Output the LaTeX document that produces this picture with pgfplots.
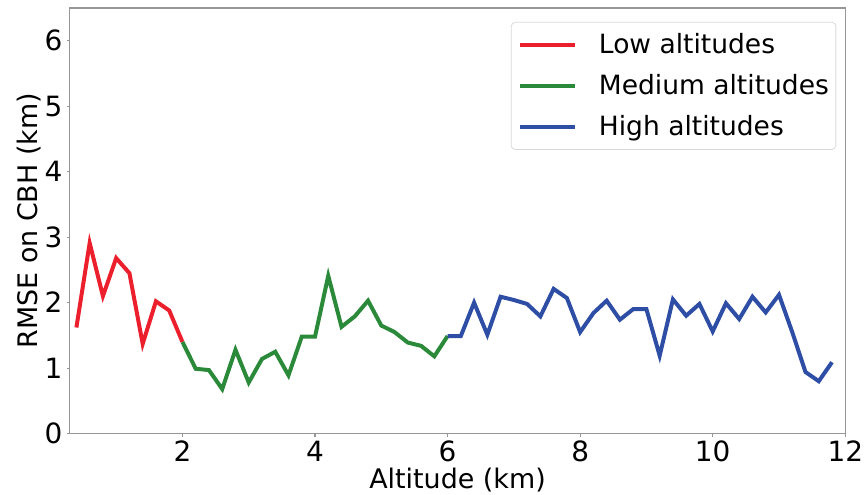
\documentclass[border=0pt]{standalone}
\usepackage{fontspec}
\setmainfont{DejaVu Sans}
\usepackage{pgfplots}
\pgfplotsset{compat=1.18}

\definecolor{lowred}{RGB}{236,32,44}
\definecolor{midgreen}{RGB}{42,138,58}
\definecolor{highblue}{RGB}{46,78,166}
\definecolor{spine}{RGB}{150,150,150}

\begin{document}
\begin{tikzpicture}
\begin{axis}[
    scale only axis,
    width=389pt,
    height=213.5pt,
    xmin=0.3, xmax=12,
    ymin=0, ymax=6.5,
    xtick={2,4,6,8,10,12},
    ytick={0,1,2,3,4,5,6},
    tick align=outside,
    tick pos=left,
    major tick length=1.5pt,
    axis line style={spine, line width=0.6pt},
    every tick/.style={spine, line width=0.6pt},
    /pgf/number format/assume math mode=true,
    ticklabel style={font=\fontsize{14}{16}\selectfont, inner sep=2pt},
    xlabel={Altitude (km)},
    ylabel={RMSE on CBH (km)},
    label style={font=\fontsize{13.5}{16}\selectfont, inner sep=1pt},
    xlabel style={at={(axis description cs:0.5,0)}, anchor=center, yshift=-23.5pt},
    ylabel style={at={(axis description cs:0,0.5)}, anchor=center, yshift=20.5pt},
    legend style={
        at={(1,1)}, anchor=north east,
        xshift=-4.5pt, yshift=-7pt,
        draw=black!15, rounded corners=2pt,
        font=\fontsize{13.3}{16}\selectfont,
        row sep=5pt,
        column sep=11pt,
        inner xsep=3.5pt, inner ysep=3.5pt,
        nodes={inner xsep=0pt},
    },
    legend cell align=left,
    legend image code/.code={
        \draw[#1, line width=2pt] (0pt,0pt) -- (27.5pt,0pt);
    },
]
\addplot[lowred, line width=2pt] coordinates {
(0.4,1.62) (0.6,2.91) (0.8,2.10) (1.0,2.68) (1.2,2.45) (1.4,1.37)
(1.6,2.02) (1.8,1.88) (2.0,1.40)
};
\addlegendentry{Low altitudes}
\addplot[midgreen, line width=2pt] coordinates {
(2.0,1.40) (2.2,0.99) (2.4,0.97) (2.6,0.68) (2.8,1.28) (3.0,0.78)
(3.2,1.14) (3.4,1.25) (3.6,0.89) (3.8,1.48) (4.0,1.48) (4.2,2.41)
(4.4,1.63) (4.6,1.79) (4.8,2.03) (5.0,1.65) (5.2,1.55) (5.4,1.39)
(5.6,1.34) (5.8,1.18) (6.0,1.49)
};
\addlegendentry{Medium altitudes}
\addplot[highblue, line width=2pt] coordinates {
(6.0,1.49) (6.2,1.49) (6.4,2.00) (6.6,1.51) (6.8,2.09) (7.0,2.04)
(7.2,1.98) (7.4,1.79) (7.6,2.21) (7.8,2.07) (8.0,1.55) (8.2,1.84)
(8.4,2.03) (8.6,1.74) (8.8,1.90) (9.0,1.90) (9.2,1.19) (9.4,2.05)
(9.6,1.80) (9.8,1.98) (10.0,1.56) (10.2,1.99) (10.4,1.75) (10.6,2.09)
(10.8,1.85) (11.0,2.12) (11.2,1.55) (11.4,0.94) (11.6,0.80) (11.8,1.09)
};
\addlegendentry{High altitudes}
\end{axis}
\path ([xshift=-35pt,yshift=-30pt]current axis.south west)
    rectangle ([xshift=9.5pt,yshift=4pt]current axis.north east);
\end{tikzpicture}
\end{document}
